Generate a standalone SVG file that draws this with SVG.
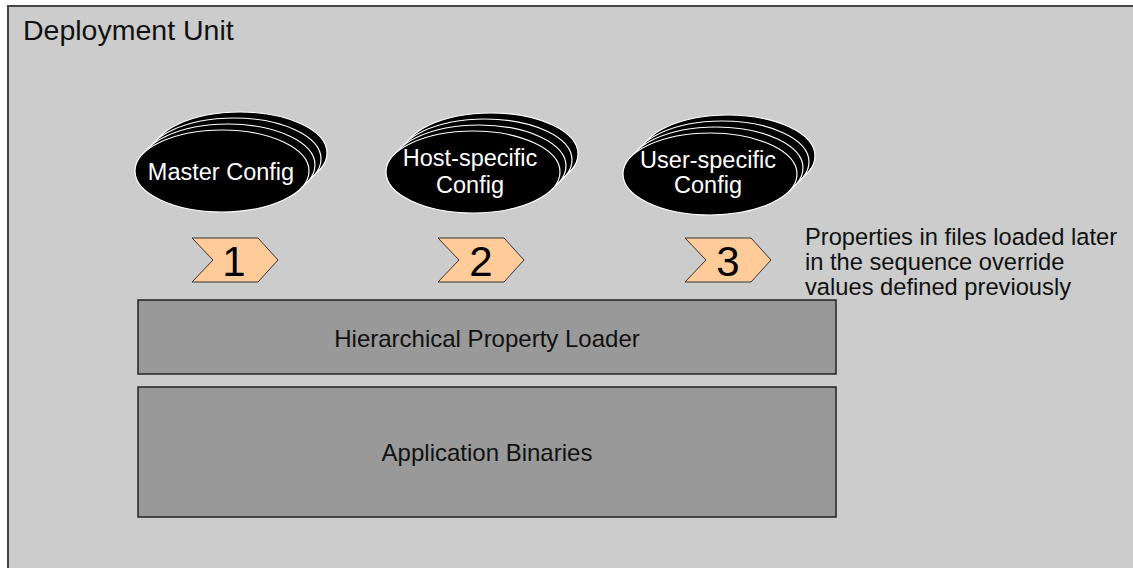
<svg xmlns="http://www.w3.org/2000/svg" width="1133" height="568" viewBox="0 0 1133 568">
  <style>
    text { font-family: "Liberation Sans", Arial, sans-serif; }
    .frame { fill: #cccccc; stroke: #444444; stroke-width: 2; }
    .box { fill: #999999; stroke: #222222; stroke-width: 1.5; }
    .cfg { fill: #000000; stroke: #ffffff; stroke-width: 1.2; }
    .chev { fill: #ffcc99; stroke: #333333; stroke-width: 1; }
    .lbl { font-size: 24px; fill: #111111; text-anchor: middle; }
    .cfgtxt { font-size: 23.5px; fill: #ffffff; text-anchor: middle; }
    .num { font-size: 42px; fill: #000000; text-anchor: middle; }
    .note { font-size: 23.7px; fill: #111111; }
  </style>
  <defs>
    <!-- one config file, stacked four times to suggest a set of files -->
    <ellipse id="cfgShape" cx="0" cy="0" rx="87" ry="41"/>
    <polygon id="step" points="0,0 66,0 86,22 66,44 0,44 21,22"/>
  </defs>

  <!-- outer container -->
  <g id="deployment-unit">
    <rect class="frame" x="8" y="6" width="1200" height="620"/>
    <text x="23" y="40" style="font-size:28.5px;fill:#111111">Deployment Unit</text>
  </g>

  <!-- configuration file stacks -->
  <g id="master-config">
    <use href="#cfgShape" class="cfg" x="240" y="153"/>
    <use href="#cfgShape" class="cfg" x="234" y="159"/>
    <use href="#cfgShape" class="cfg" x="228" y="165"/>
    <use href="#cfgShape" class="cfg" x="222" y="171"/>
    <text class="cfgtxt" x="221" y="180">Master Config</text>
  </g>
  <g id="host-config">
    <use href="#cfgShape" class="cfg" x="491" y="154"/>
    <use href="#cfgShape" class="cfg" x="485" y="160"/>
    <use href="#cfgShape" class="cfg" x="479" y="166"/>
    <use href="#cfgShape" class="cfg" x="473" y="172"/>
    <text class="cfgtxt" x="470" y="166">Host-specific</text>
    <text class="cfgtxt" x="470" y="193">Config</text>
  </g>
  <g id="user-config">
    <use href="#cfgShape" class="cfg" x="728" y="156"/>
    <use href="#cfgShape" class="cfg" x="722" y="162"/>
    <use href="#cfgShape" class="cfg" x="716" y="168"/>
    <use href="#cfgShape" class="cfg" x="710" y="174"/>
    <text class="cfgtxt" x="708" y="168">User-specific</text>
    <text class="cfgtxt" x="708" y="193">Config</text>
  </g>

  <!-- load order markers -->
  <g id="step-1">
    <use href="#step" class="chev" x="192" y="238"/>
    <text class="num" x="234" y="276">1</text>
  </g>
  <g id="step-2">
    <use href="#step" class="chev" x="438" y="238"/>
    <text class="num" x="481" y="276">2</text>
  </g>
  <g id="step-3">
    <use href="#step" class="chev" x="685" y="238"/>
    <text class="num" x="728" y="276">3</text>
  </g>

  <g id="override-note">
    <text class="note" x="805" y="245">Properties in files loaded later</text>
    <text class="note" x="805" y="270">in the sequence override</text>
    <text class="note" x="805" y="295">values defined previously</text>
  </g>

  <!-- runtime layers -->
  <g id="property-loader">
    <rect class="box" x="138" y="300" width="698" height="74"/>
    <text class="lbl" x="487" y="347">Hierarchical Property Loader</text>
  </g>
  <g id="application-binaries">
    <rect class="box" x="138" y="387" width="698" height="130"/>
    <text class="lbl" x="487" y="461">Application Binaries</text>
  </g>

  <!-- connectors: none drawn in this layout -->
  <g id="connectors"/>
</svg>
